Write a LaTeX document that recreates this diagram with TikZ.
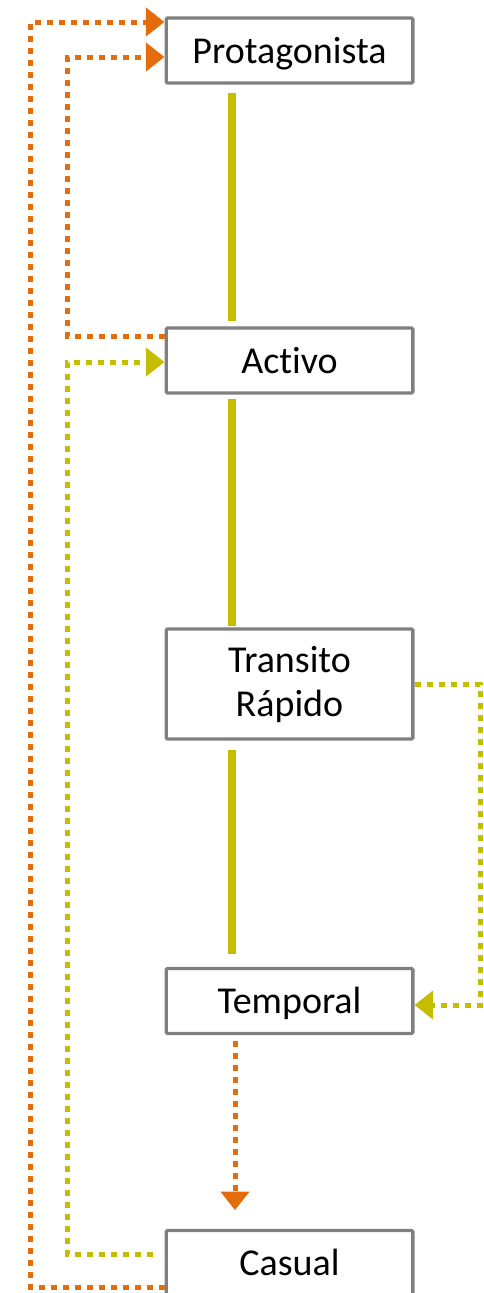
\documentclass[tikz,border=0pt]{standalone}
\usepackage{fontspec}
\setmainfont[Ligatures=NoCommon]{Carlito}
\usetikzlibrary{arrows.meta}
\definecolor{olivey}{RGB}{196,189,0}
\definecolor{orangey}{RGB}{228,108,10}
\definecolor{boxgray}{RGB}{128,128,128}
\tikzstyle{state}=[draw=boxgray, line width=2.5pt, fill=white, rounded corners=1pt, align=center, minimum width=185pt, minimum height=48.75pt, inner sep=0pt, font={\fontsize{28.5pt}{33pt}\selectfont}]
\tikzstyle{single}=[text height=19pt, text depth=0pt]
\tikzstyle{trunk}=[olivey, line width=6pt]
\tikzstyle{dotlink}=[line width=3.75pt, dash pattern=on 4.5pt off 4.5pt]
\tikzstyle{yellowlink}=[dotlink, olivey]
\tikzstyle{orangelink}=[dotlink, orangey]
\tikzstyle{tip}=[-{Triangle[length=14pt,width=21pt]}]

\begin{document}
\begin{tikzpicture}[x=0.75pt, y=-0.75pt]
    \useasboundingbox (0,0) rectangle (483,1293);
    \node [state, single] (prot) at (289.5,50.5) {Protagonista};
    \node [state, single] (activo) at (289.5,360.5) {Activo};
    \node [state, minimum height=82.5pt] (transito) at (289.5,684) {Transito\\Rápido};
    \node [state, single] (temporal) at (289.5,1001) {Temporal};
    \node [state, single] (casual) at (289.5,1263) {Casual};

    \draw [trunk, shorten <=6pt, shorten >=4pt] (prot.south -| 232,0) -- (activo.north -| 232,0);
    \draw [trunk, shorten <=3pt, shorten >=1pt] (activo.south -| 232,0) -- (transito.north -| 232,0);
    \draw [trunk, shorten <=7pt, shorten >=10pt] (transito.south -| 232,0) -- (temporal.north -| 232,0);

    \draw [orangelink, tip] (casual.west |- 0,1287) -| (30,22) -- (prot.west |- 0,22);
    \draw [orangelink, tip] (activo.west |- 0,336) -| (67,57) -- (prot.west |- 0,57);
    \draw [yellowlink, tip, shorten <=9pt] (casual.west |- 0,1254) -| (67,362) -- (activo.west |- 0,362);
    \draw [yellowlink, tip] (transito.east |- 0,684) -| (480,1005) -- (temporal.east |- 0,1005);
    \draw [orangelink, tip, shorten <=4pt, shorten >=14pt] (temporal.south -| 235,0) -- (casual.north -| 235,0);
\end{tikzpicture}
\end{document}
